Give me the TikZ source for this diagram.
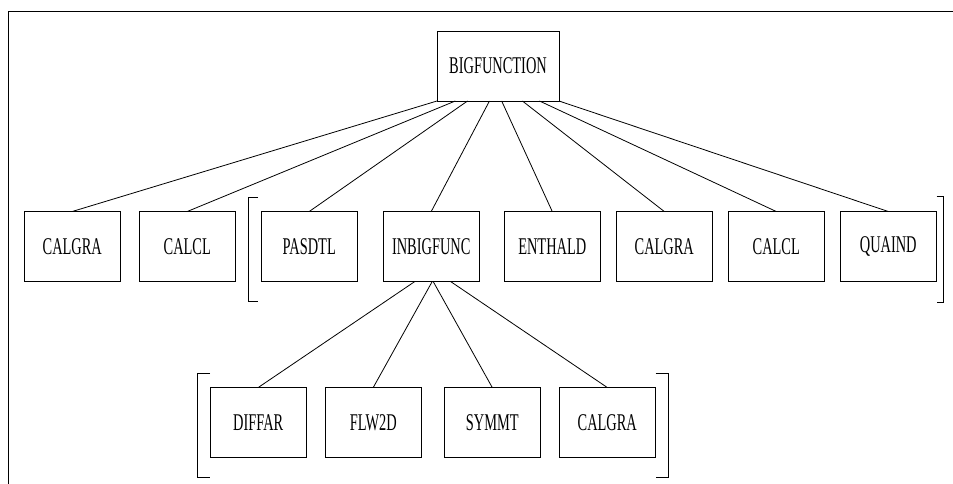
\documentclass[tikz,border=0pt]{standalone}
\usepackage{fontspec}
\newfontfamily\boxfont[FakeStretch=0.6]{Liberation Serif}
\usetikzlibrary{positioning}
\usetikzlibrary{calc}

\begin{document}
\begin{tikzpicture}[x=0.75pt, y=-0.75pt, line width=0.6pt, outer sep=0,
    fn/.style={draw, rectangle, minimum height=52.5pt, minimum width=72.375pt, inner sep=0, font=\boxfont\fontsize{18}{21}\selectfont}]
        \useasboundingbox (0,0) rectangle (953,484);
        \draw (953,11) -- (8,11) -- (8,484);
        \node [fn, minimum width=91.5pt] (big) at (498,66) {BIGFUNCTION};
        \node [fn] (calgra1) at (72.25,246.5) {CALGRA};
        \node [fn, right = 13.875pt of calgra1] (calcl1) {CALCL};
        \node [fn, right = 19.125pt of calcl1] (pasdtl) {PASDTL};
        \node [fn, right = 19.125pt of pasdtl] (inbig) {INBIGFUNC};
        \node [fn, right = 18.375pt of inbig] (enthald) {ENTHALD};
        \node [fn, right = 11.625pt of enthald] (calgra2) {CALGRA};
        \node [fn, right = 11.625pt of calgra2] (calcl2) {CALCL};
        \node [fn, right = 11.625pt of calcl2] (quaind) {QUAIND};
        \node [fn] (diffar) at (258.25,422.5) {DIFFAR};
        \node [fn, right = 13.875pt of diffar] (flw2d) {FLW2D};
        \node [fn, right = 16.875pt of flw2d] (symmt) {SYMMT};
        \node [fn, right = 13.875pt of symmt] (calgra3) {CALGRA};
        \foreach \c/\f in {calgra1/0, calcl1/0.15, pasdtl/0.25, inbig/0.43, enthald/0.53, calgra2/0.7, calcl2/0.84, quaind/1}
            \draw ($(big.south west)!\f!(big.south east)$) -- (\c.north);
        \foreach \c/\f in {diffar/0.33, flw2d/0.51, symmt/0.52, calgra3/0.7}
            \draw ($(inbig.south west)!\f!(inbig.south east)$) -- (\c.north);
        % brackets
        \draw ($(pasdtl.west)+(-3,-49.5)$) -- ++(-10,0) -- ++(0,104) -- ++(10,0);
        \draw ($(quaind.east)+(0,-50.5)$) -- ++(7,0) -- ++(0,106) -- ++(-7,0);
        \draw ($(diffar.west)+(0,-49.5)$) -- ++(-13,0) -- ++(0,104) -- ++(13,0);
        \draw ($(calgra3.east)+(0,-49.5)$) -- ++(13,0) -- ++(0,104) -- ++(-13,0);
    \end{tikzpicture}
\end{document}
